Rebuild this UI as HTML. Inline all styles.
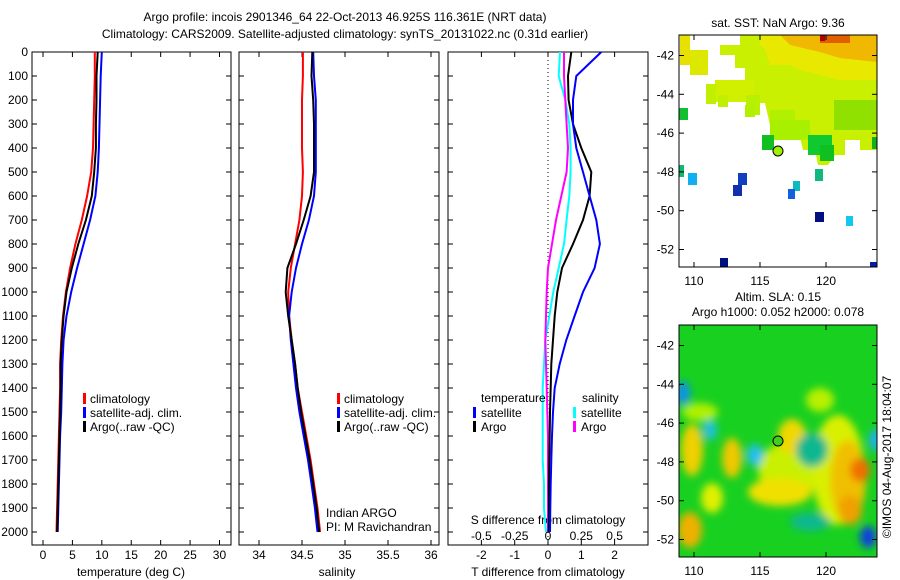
<!DOCTYPE html>
<html><head><meta charset="utf-8"><style>
body{margin:0;background:#fff}
svg{display:block;font-family:"Liberation Sans",sans-serif;font-size:12px}
</style></head><body>
<svg id="fig" width="900" height="580" viewBox="0 0 900 580">
<defs>
<filter id="blur" x="-50%" y="-50%" width="200%" height="200%"><feGaussianBlur stdDeviation="4"/></filter>
<clipPath id="slaclip"><rect x="679" y="325" width="198" height="232"/></clipPath>
<clipPath id="sstclip"><rect x="679" y="35" width="198" height="232"/></clipPath>
</defs>
<text x="345" y="21" text-anchor="middle">Argo profile: incois 2901346_64 22-Oct-2013 46.925S 116.361E (NRT data)</text>
<text x="345" y="38" text-anchor="middle">Climatology: CARS2009. Satellite-adjusted climatology: synTS_20131022.nc (0.31d earlier)</text>

<!-- SST map -->
<g>
<text x="778" y="27" text-anchor="middle">sat. SST: NaN Argo: 9.36</text>
<g clip-path="url(#sstclip)">
<polygon points="740,35 877,35 877,150 860,150 860,140 845,140 845,155 835,155 828,165 818,165 815,150 803,150 800,137 790,137 790,125 770,125 765,103 755,103 755,82 745,82 745,68 735,68 735,55 720,55 720,45 740,45" fill="#c8f000"/>
<polygon points="760,35 877,35 877,80 840,80 820,75 800,70 790,65 770,65 765,50 760,45" fill="#e8e800"/>
<polygon points="780,35 877,35 877,62 840,58 820,52 790,45" fill="#f0b800"/>
<rect x="820" y="35" width="30" height="8" fill="#e06000"/>
<rect x="820" y="35" width="5" height="6" fill="#b00000"/>
<rect x="680" y="35" width="10" height="30" fill="#e8e000"/>
<rect x="690" y="50" width="18" height="25" fill="#dce800"/>
<rect x="715" y="80" width="40" height="22" fill="#d0f000"/>
<rect x="706" y="84" width="10" height="20" fill="#c0f000"/>
<rect x="718" y="95" width="10" height="12" fill="#c0f000"/>
<rect x="746" y="95" width="14" height="20" fill="#b8f000"/>
<rect x="745" y="105" width="10" height="12" fill="#b0f000"/>
<rect x="770" y="110" width="25" height="20" fill="#b0f000"/>
<rect x="770" y="120" width="40" height="20" fill="#a8f000"/>
<rect x="834" y="100" width="43" height="30" fill="#90e000"/>
<rect x="679" y="108" width="9" height="12" fill="#10c030"/>
<rect x="762" y="135" width="12" height="15" fill="#10c020"/>
<rect x="808" y="135" width="24" height="20" fill="#10c830"/>
<rect x="820" y="145" width="14" height="16" fill="#10c020"/>
<rect x="872" y="137" width="5" height="12" fill="#10b020"/>
<rect x="679" y="165" width="5" height="12" fill="#10b870"/>
<rect x="688" y="173" width="9" height="12" fill="#10b0f0"/>
<rect x="738" y="173" width="9" height="12" fill="#1040c0"/>
<rect x="733" y="185" width="9" height="11" fill="#1030b0"/>
<rect x="815" y="169" width="8" height="12" fill="#10b880"/>
<rect x="793" y="181" width="7" height="10" fill="#10b8c0"/>
<rect x="788" y="189" width="7" height="10" fill="#1060e0"/>
<rect x="815" y="212" width="9" height="10" fill="#001080"/>
<rect x="846" y="216" width="7" height="10" fill="#10c8f0"/>
<rect x="720" y="258" width="8" height="9" fill="#001080"/>
<rect x="870" y="262" width="7" height="5" fill="#0020a0"/>
</g>
<circle cx="778" cy="151" r="5" fill="#a0f000" stroke="#000" stroke-width="1"/>
<rect x="679" y="35" width="198" height="232" fill="none" stroke="#000"/>
<g id="sstTicks"></g>
</g>

<!-- SLA map -->
<g>
<text x="778" y="301" text-anchor="middle">Altim. SLA: 0.15</text>
<text x="778" y="316" text-anchor="middle">Argo h1000: 0.052 h2000: 0.078</text>
<g clip-path="url(#slaclip)">
<rect x="679" y="325" width="198" height="232" fill="#18d020"/>
<g filter="url(#blur)">
<ellipse cx="700" cy="412" rx="18" ry="9" fill="#b0f000"/>
<ellipse cx="790" cy="470" rx="32" ry="28" fill="#c8f000"/>
<ellipse cx="838" cy="470" rx="26" ry="55" fill="#d8f000"/>
<ellipse cx="692" cy="450" rx="11" ry="26" fill="#f0d000"/>
<ellipse cx="732" cy="458" rx="10" ry="20" fill="#f0c800"/>
<ellipse cx="780" cy="492" rx="32" ry="14" fill="#f0e000"/>
<ellipse cx="792" cy="437" rx="14" ry="18" fill="#f0d800"/>
<ellipse cx="848" cy="480" rx="18" ry="40" fill="#f0c000"/>
<ellipse cx="860" cy="470" rx="10" ry="12" fill="#f07000"/>
<ellipse cx="850" cy="510" rx="12" ry="15" fill="#f0a000"/>
<ellipse cx="690" cy="530" rx="12" ry="18" fill="#f0b000"/>
<ellipse cx="712" cy="498" rx="11" ry="15" fill="#e0f000"/>
<ellipse cx="820" cy="400" rx="14" ry="12" fill="#b8f000"/>
<ellipse cx="683" cy="393" rx="7" ry="12" fill="#1090f0"/>
<ellipse cx="710" cy="430" rx="7" ry="10" fill="#20c0e0"/>
<ellipse cx="755" cy="455" rx="8" ry="11" fill="#20c0f0"/>
<ellipse cx="812" cy="450" rx="16" ry="17" fill="#10b890"/>
<ellipse cx="876" cy="440" rx="7" ry="11" fill="#20b0f0"/>
<ellipse cx="868" cy="537" rx="8" ry="11" fill="#1040e0"/>
<ellipse cx="810" cy="522" rx="20" ry="9" fill="#10b890"/>
</g>
</g>
<circle cx="778" cy="441" r="5" fill="#40d020" stroke="#000"/>
<rect x="679" y="325" width="198" height="232" fill="none" stroke="#000"/>
<g id="slaTicks"></g>
<text transform="translate(891,457) rotate(-90)" text-anchor="middle">©IMOS 04-Aug-2017 18:04:07</text>
</g>

<g id="profiles"></g>
</svg>
<script>
// ===== data =====
const depths=[0,100,200,300,400,500,600,700,800,900,1000,1100,1200,1300,1400,1500,1600,1700,1800,1900,2000];
const tempClim=[8.8,8.8,8.7,8.6,8.5,8.2,7.5,6.6,5.5,4.6,3.9,3.4,3.1,2.9,2.9,2.8,2.7,2.6,2.5,2.4,2.3];
const tempSat=[10.0,9.8,9.7,9.6,9.5,9.3,8.9,8.0,6.9,5.8,4.8,4.0,3.5,3.3,3.2,3.1,2.9,2.8,2.7,2.6,2.5];
const tempArgo=[9.3,9.1,9.1,9.0,9.0,8.7,8.3,7.3,6.0,4.9,4.0,3.5,3.2,3.0,3.0,2.9,2.8,2.7,2.6,2.5,2.4];
const salClim=[34.51,34.51,34.50,34.50,34.50,34.51,34.50,34.47,34.42,34.37,34.34,34.35,34.38,34.42,34.45,34.50,34.55,34.60,34.64,34.68,34.71];
const salSat=[34.63,34.64,34.66,34.66,34.66,34.66,34.64,34.58,34.50,34.43,34.38,34.35,34.37,34.40,34.43,34.47,34.52,34.57,34.61,34.65,34.68];
const salArgo=[34.62,34.61,34.63,34.64,34.64,34.64,34.60,34.52,34.43,34.33,34.31,34.34,34.38,34.42,34.45,34.49,34.54,34.59,34.63,34.67,34.70];
const tDiffSat=[1.6,0.85,0.75,0.75,0.85,1.05,1.25,1.45,1.56,1.4,1.05,0.8,0.55,0.35,0.2,0.15,0.12,0.1,0.08,0.07,0.06];
const tDiffArgo=[0.7,0.6,0.62,0.75,1.0,1.3,1.25,1.05,0.75,0.42,0.28,0.2,0.15,0.1,0.08,0.06,0.05,0.04,0.03,0.03,0.02];
const sDiffSat=[0.09,0.08,0.13,0.16,0.17,0.17,0.16,0.14,0.12,0.08,0.04,0.01,-0.02,-0.03,-0.04,-0.04,-0.04,-0.04,-0.03,-0.03,-0.015];
const sDiffArgo=[0.12,0.12,0.13,0.14,0.15,0.14,0.10,0.06,0.03,0.0,-0.01,-0.015,-0.02,-0.015,-0.01,-0.005,0,0,0,0,0];
const depthTicks=[0,100,200,300,400,500,600,700,800,900,1000,1100,1200,1300,1400,1500,1600,1700,1800,1900,2000];
const tempTicks=[0,5,10,15,20,25,30];
const salTicks=[34,34.5,35,35.5,36];
const salTickLabels=["34","34.5","35","35.5","36"];
const tDiffTicks=[-2,-1,0,1,2];
const sDiffTicks=[-0.5,-0.25,0,0.25,0.5];
const sDiffTickLabels=["-0.5","-0.25","0","0.25","0.5"];
const latTicks=[-42,-44,-46,-48,-50,-52];
const lonTicks=[110,115,120];

const NS='http://www.w3.org/2000/svg';
const root=document.getElementById('profiles');
function mk(tag,attrs,parent,text){const e=document.createElementNS(NS,tag);for(const k in attrs)e.setAttribute(k,attrs[k]);if(text!==undefined)e.textContent=text;(parent||root).appendChild(e);return e;}
const yD=d=>52+d*0.24;
const xT=v=>43+v*5.883;
const xS=v=>259+(v-34)*86;
const xTD=v=>548+v*33.3;
const xSD=v=>548+v*133.2;
const yTop=52,yBot=545;

function frame(x0,x1,name){
  const r=mk('rect',{x:x0,y:yTop,width:x1-x0,height:yBot-yTop,fill:'none',stroke:'#000'});
  
  
  depthTicks.forEach(d=>{
    mk('line',{x1:x0,x2:x0+5,y1:yD(d),y2:yD(d),stroke:'#000'});
    mk('line',{x1:x1,x2:x1-5,y1:yD(d),y2:yD(d),stroke:'#000'});
  });
}
function xticks(vals,labels,fx,name,ylab){
  vals.forEach((v,i)=>{
    const x=fx(v);
    mk('line',{x1:x,x2:x,y1:yBot,y2:yBot-5,stroke:'#000'});
    mk('line',{x1:x,x2:x,y1:yTop,y2:yTop+5,stroke:'#000'});
    const t=mk('text',{x:x,y:ylab,'text-anchor':'middle'},root,labels[i]);
    
    
  });
}
function line(vals,fx,color,name,w){
  const pts=vals.map((v,i)=>fx(v).toFixed(1)+','+yD(depths[i]).toFixed(1)).join(' ');
  const p=mk('polyline',{points:pts,fill:'none',stroke:color,'stroke-width':w||2});
  
  
}
function txt(x,y,s,name,anchor){
  const t=mk('text',{x:x,y:y,'text-anchor':anchor||'start'},root,s);
  
  
}
function legBar(x,y,color,name){
  const r=mk('rect',{x:x,y:y-10,width:3,height:11,fill:color});
  
  
}

depthTicks.forEach(d=>{
  const t=mk('text',{x:28,y:yD(d)+4,'text-anchor':'end'},root,String(d));
  
  
});

// panel 1
frame(32,231,'temperature-panel');
xticks(tempTicks,tempTicks.map(String),xT,'temperature','559');
txt(131,576,'temperature (deg C)','temperature-axis-title','middle');
line(tempClim,xT,'#ff0000','temp-climatology-line');
line(tempSat,xT,'#0000ff','temp-satellite-line');
line(tempArgo,xT,'#000000','temp-argo-line');
legBar(83,403,'#ff0000','legend-climatology-swatch');txt(90,403,'climatology','legend-climatology');
legBar(83,417,'#0000ff','legend-satellite-swatch');txt(90,417,'satellite-adj. clim.','legend-satellite');
legBar(83,431,'#000','legend-argo-swatch');txt(90,431,'Argo(..raw -QC)','legend-argo');

// panel 2
frame(239,439,'salinity-panel');
xticks(salTicks,salTickLabels,xS,'salinity','559');
txt(337,576,'salinity','salinity-axis-title','middle');
line(salClim,xS,'#ff0000','sal-climatology-line');
line(salSat,xS,'#0000ff','sal-satellite-line');
line(salArgo,xS,'#000000','sal-argo-line');
legBar(337,403,'#ff0000','legend2-climatology-swatch');txt(344,403,'climatology','legend2-climatology');
legBar(337,417,'#0000ff','legend2-satellite-swatch');txt(344,417,'satellite-adj. clim.','legend2-satellite');
legBar(337,431,'#000','legend2-argo-swatch');txt(344,431,'Argo(..raw -QC)','legend2-argo');
txt(326,517,'Indian ARGO','pi-institution');
txt(326,531,'PI: M Ravichandran','pi-name');

// panel 3
frame(448,648,'difference-panel');
xticks(tDiffTicks,tDiffTicks.map(String),xTD,'t-difference','559');
sDiffTicks.forEach((v,i)=>{
  const t=mk('text',{x:xSD(v),y:540,'text-anchor':'middle'},root,sDiffTickLabels[i]);
  
  
});
txt(548,524,'S difference from climatology','s-difference-axis-title','middle');
txt(548,576,'T difference from climatology','t-difference-axis-title','middle');
const zl=mk('line',{x1:548,x2:548,y1:yTop,y2:yBot,stroke:'#000','stroke-dasharray':'1,3'});


line(sDiffSat,xSD,'#00ffff','s-diff-satellite-line');
line(sDiffArgo,xSD,'#ff00ff','s-diff-argo-line');
line(tDiffArgo,xTD,'#000000','t-diff-argo-line');
line(tDiffSat,xTD,'#0000ff','t-diff-satellite-line');
txt(481,402,'temperature','legend3-temperature-header');
legBar(473,417,'#0000ff','legend3-t-satellite-swatch');txt(481,417,'satellite','legend3-t-satellite');
legBar(473,431,'#000','legend3-t-argo-swatch');txt(481,431,'Argo','legend3-t-argo');
txt(582,402,'salinity','legend3-salinity-header');
legBar(573,417,'#00ffff','legend3-s-satellite-swatch');txt(581,417,'satellite','legend3-s-satellite');
legBar(573,431,'#ff00ff','legend3-s-argo-swatch');txt(581,431,'Argo','legend3-s-argo');

// map ticks
function mapTicks(gid,y0,lat42){
  const g=document.getElementById(gid);
  latTicks.forEach(l=>{
    const y=lat42+(-42-l)*19.4;
    mk('line',{x1:679,x2:684,y1:y,y2:y,stroke:'#000'},g);
    mk('line',{x1:877,x2:872,y1:y,y2:y,stroke:'#000'},g);
    const t=mk('text',{x:674,y:y+4,'text-anchor':'end'},g,String(l));
    
    
  });
  lonTicks.forEach(l=>{
    const x=694+(l-110)*13.2;
    mk('line',{x1:x,x2:x,y1:y0,y2:y0+5,stroke:'#000'},g);
    mk('line',{x1:x,x2:x,y1:y0+232,y2:y0+227,stroke:'#000'},g);
    const t=mk('text',{x:x,y:y0+250,'text-anchor':'middle'},g,String(l));
    
    
  });
}
mapTicks('sstTicks',35,55.5);
mapTicks('slaTicks',325,345.5);
</script>
</body></html>
